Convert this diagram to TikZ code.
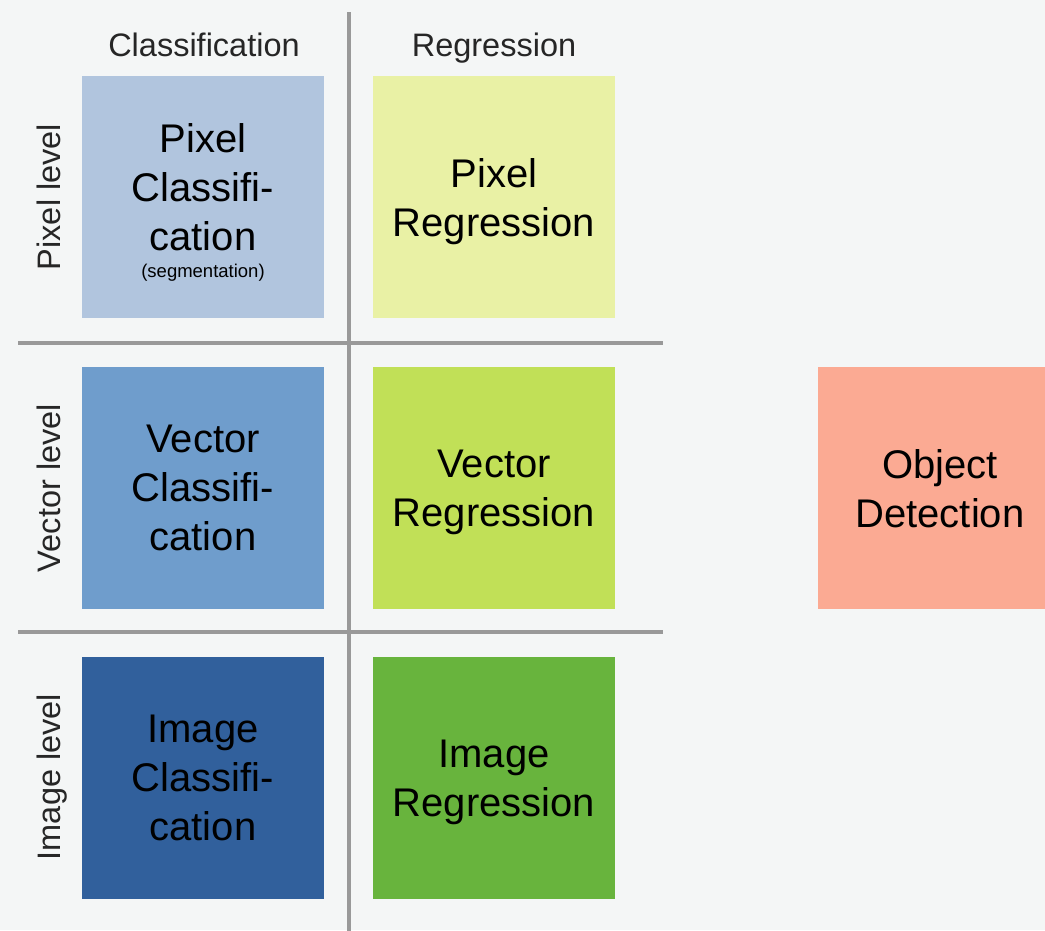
\documentclass[tikz,border=0pt]{standalone}
\usepackage{fontspec}
\setmainfont{Liberation Sans}
\definecolor{bgc}{HTML}{F4F6F6}
\definecolor{linec}{HTML}{999999}
\definecolor{pcc}{HTML}{B1C5DE}
\definecolor{prc}{HTML}{E9F1A5}
\definecolor{vcc}{HTML}{6F9DCC}
\definecolor{vrc}{HTML}{C1E057}
\definecolor{icc}{HTML}{31609C}
\definecolor{irc}{HTML}{68B43D}
\definecolor{odc}{HTML}{FBAA93}
\begin{document}
\begin{tikzpicture}[x=1pt,y=-1pt,
  cell/.style={minimum width=242pt, minimum height=242pt, inner sep=0pt, draw=none, anchor=north west},
  celltext/.style={anchor=north, align=center, inner sep=0pt, text=black, font=\fontsize{40}{49}\selectfont},
  headtext/.style={anchor=base, inner sep=0pt, text=black!85, font=\fontsize{32.5}{36}\selectfont},
  rowtext/.style={anchor=base, rotate=90, inner sep=0pt, text=black!85, font=\fontsize{32.5}{36}\selectfont},
  gridline/.style={draw=linec, line width=3.5pt}]
\fill[bgc] (0,0) rectangle (1045,930);
\useasboundingbox (0,0) rectangle (1045,930);
\clip (0,0) rectangle (1045,930);
% grid lines
\coordinate (vtop) at (349,12);
\coordinate (vbot) at (349,932);
\coordinate (h1l) at (18,343);
\coordinate (h1r) at (663,343);
\coordinate (h2l) at (18,632);
\coordinate (h2r) at (663,632);
\draw[gridline] (vtop) -- (vbot);
\draw[gridline] (h1l) -- (h1r);
\draw[gridline] (h2l) -- (h2r);
% headers
\node[headtext] (hcls) at (204,56) {Classification};
\node[headtext] (hreg) at (494,56) {Regression};
\node[rowtext] (rpix) at (60,197) {Pixel level};
\node[rowtext] (rvec) at (60,488) {Vector level};
\node[rowtext] (rimg) at (60,777) {Image level};
% cells
\node[cell, fill=pcc] (pc) at (82,76) {};
\node[cell, fill=prc] (pr) at (373,76) {};
\node[cell, fill=vcc] (vc) at (82,367) {};
\node[cell, fill=vrc] (vr) at (373,367) {};
\node[cell, fill=icc] (ic) at (82,657) {};
\node[cell, fill=irc] (ir) at (373,657) {};
\node[cell, fill=odc] (od) at (818,367) {};
% cell texts
\node[celltext] (pct) at (203,123.4) {Pixel\\Classifi-\\cation\\[-22pt]{\fontsize{18.5}{22}\selectfont (segmentation)}};
\node[celltext] (prt) at (494,158.4) {Pixel\\Regression};
\node[celltext] (vct) at (203,424.4) {Vector\\Classifi-\\cation};
\node[celltext] (vrt) at (494,449.4) {Vector\\Regression};
\node[celltext] (ict) at (203,714.4) {Image\\Classifi-\\cation};
\node[celltext] (irt) at (494,739.4) {Image\\Regression};
\node[celltext] (odt) at (940,449.4) {Object\\Detection};
\end{tikzpicture}
\end{document}
